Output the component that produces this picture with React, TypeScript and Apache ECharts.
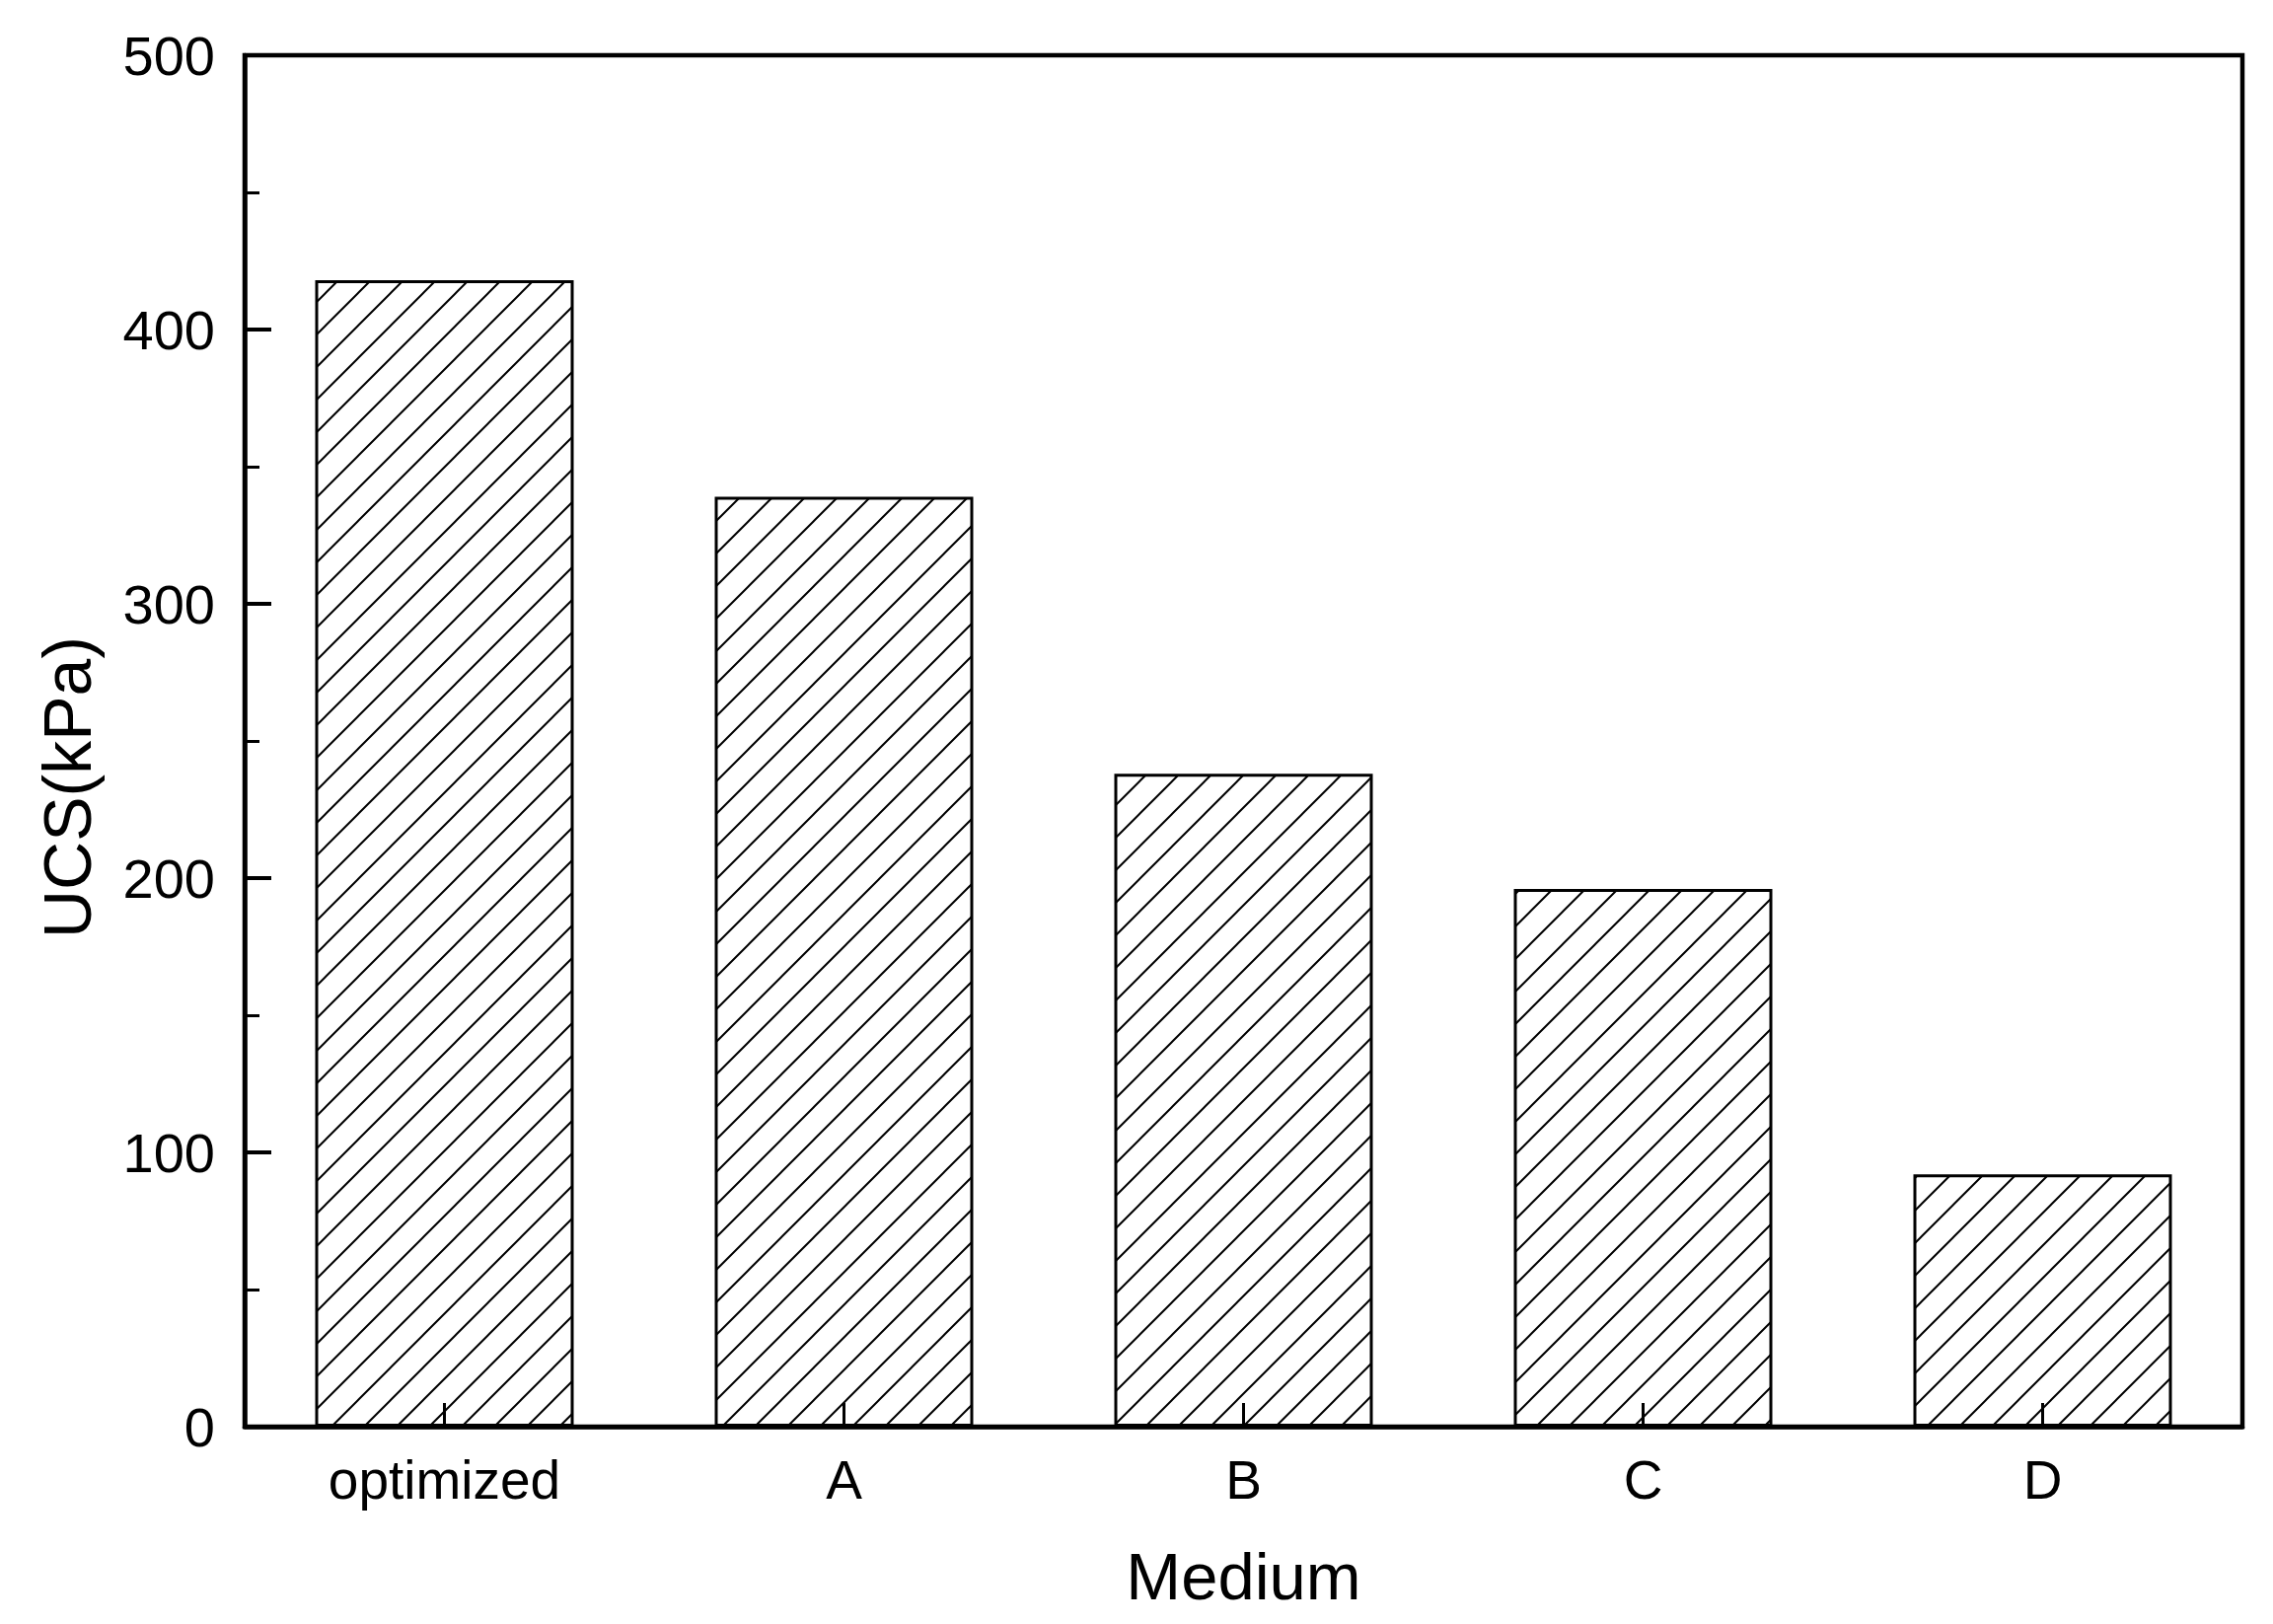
import React, { useEffect, useRef } from "react";
import * as echarts from "echarts";

const categories = ["optimized", "A", "B", "C", "D"];
const ucsValues = [418, 339, 238, 196, 92];
const yTicks = [0, 100, 200, 300, 400, 500];

function makeHatch(): HTMLCanvasElement {
  const s = 33;
  const c = document.createElement("canvas");
  c.width = s;
  c.height = s;
  const ctx = c.getContext("2d")!;
  ctx.fillStyle = "#ffffff";
  ctx.fillRect(0, 0, s, s);
  ctx.strokeStyle = "#000000";
  ctx.lineWidth = 2;
  ctx.beginPath();
  ctx.moveTo(-2, s + 2);
  ctx.lineTo(s + 2, -2);
  ctx.moveTo(-2, 2);
  ctx.lineTo(2, -2);
  ctx.moveTo(s - 2, s + 2);
  ctx.lineTo(s + 2, s - 2);
  ctx.stroke();
  return c;
}

export default function App() {
  const ref = useRef<HTMLDivElement>(null);
  useEffect(() => {
    const chart = echarts.init(ref.current!, null, { renderer: "svg" });
    const hatch = makeHatch();
    const font = "'Liberation Sans', Arial, sans-serif";
    chart.setOption({
      animation: false,
      backgroundColor: "#ffffff",
      grid: {
        left: 248,
        top: 56,
        right: 31,
        bottom: 200,
        show: true,
        borderColor: "#000",
        borderWidth: 4.5,
        backgroundColor: "transparent",
      },
      xAxis: {
        type: "category",
        z: 10,
        data: categories,
        name: "Medium",
        nameLocation: "middle",
        nameGap: 118,
        nameTextStyle: { fontFamily: font, fontSize: 67, color: "#000" },
        axisLine: { show: true, lineStyle: { color: "#000", width: 4.5 } },
        axisTick: {
          show: true,
          inside: true,
          alignWithLabel: true,
          length: 24,
          lineStyle: { color: "#000", width: 3 },
        },
        axisLabel: {
          fontFamily: font,
          fontSize: 55,
          color: "#000",
          margin: 26,
        },
        splitLine: { show: false },
      },
      yAxis: {
        type: "value",
        z: 10,
        min: yTicks[0],
        max: yTicks[yTicks.length - 1],
        interval: 100,
        name: "UCS(kPa)",
        nameLocation: "middle",
        nameGap: 146,
        nameTextStyle: {
          fontFamily: font,
          fontSize: 68,
          color: "#000",
          padding: [0, 94, 0, 0],
        },
        axisLine: { show: true, lineStyle: { color: "#000", width: 4.5 } },
        axisTick: {
          show: true,
          inside: true,
          length: 27,
          lineStyle: { color: "#000", width: 4 },
        },
        minorTick: {
          show: true,
          splitNumber: 2,
          length: 15,
          lineStyle: { color: "#000", width: 3 },
        },
        axisLabel: {
          fontFamily: font,
          fontSize: 56,
          color: "#000",
          margin: 30,
        },
        splitLine: { show: false },
      },
      series: [
        {
          type: "bar",
          data: ucsValues,
          barWidth: 262,
          itemStyle: {
            color: { image: hatch, repeat: "repeat" },
            borderColor: "#000",
            borderWidth: 3,
          },
        },
      ],
    });
    return () => chart.dispose();
  }, []);
  return (
    <div
      ref={ref}
      style={{ position: "absolute", left: 0, top: 0, width: 2304, height: 1646 }}
    />
  );
}
